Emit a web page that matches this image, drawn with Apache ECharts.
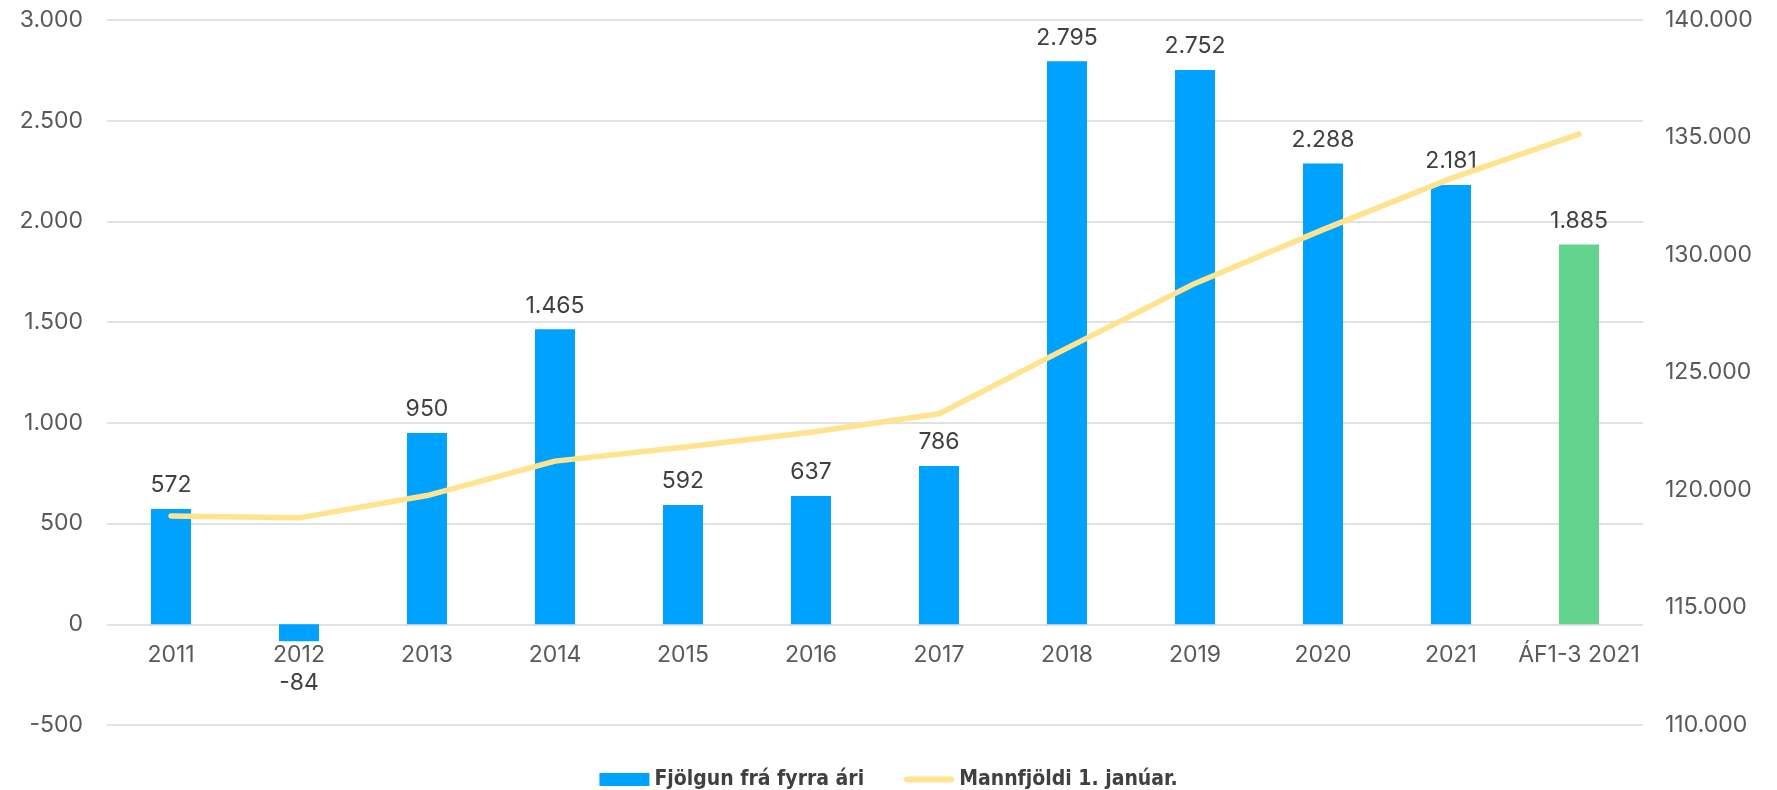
<!DOCTYPE html>
<html>
<head>
<meta charset="utf-8">
<script src="https://cdn.jsdelivr.net/npm/echarts@6/dist/echarts.min.js"></script>
<style>
html,body{margin:0;padding:0;background:#fff;}
#chart{width:1777px;height:790px;}
</style>
</head>
<body>
<div id="chart"></div>
<script>
const categories = ['2011','2012','2013','2014','2015','2016','2017','2018','2019','2020','2021','ÁF1-3 2021'];
const growth = [572, -84, 950, 1465, 592, 637, 786, 2795, 2752, 2288, 2181, 1885];
const population = [118898, 118814, 119764, 121229, 121821, 122458, 123244, 126039, 128791, 131079, 133260, 135145];
const seriesNames = ['Fjölgun frá fyrra ári', 'Mannfjöldi 1. janúar.'];

const fmt = v => {
  const s = Math.abs(v).toString().replace(/\B(?=(\d{3})+(?!\d))/g, '.');
  return (v < 0 ? '-' : '') + s;
};

const axisFont = 'Inter, Noto Sans, sans-serif';
const chart = echarts.init(document.getElementById('chart'), null, {renderer: 'canvas'});
chart.setOption({
  animation: false,
  backgroundColor: '#ffffff',
  grid: {left: 107, right: 134, top: 20, bottom: 65},
  legend: {
    top: 764,
    left: 'center',
    itemWidth: 50,
    itemHeight: 13,
    itemGap: 40,
    textStyle: {fontFamily: 'Liberation Sans Narrow, DejaVu Sans Condensed, sans-serif', fontWeight: 'bold', fontSize: 21, color: '#404040'},
    data: [
      {name: seriesNames[0], icon: 'rect', itemStyle: {color: '#00A2FF'}},
      {name: seriesNames[1], icon: 'path://M0,0L0,0M3,3.5L47,3.5A3,3,0,0,1,47,9.5L3,9.5A3,3,0,0,1,3,3.5ZM50,13L50,13', itemStyle: {color: '#FFE38E'}}
    ]
  },
  xAxis: {
    type: 'category',
    data: categories,
    axisLine: {show: false, onZero: false},
    axisTick: {show: false},
    axisLabel: {fontFamily: axisFont, fontSize: 23, color: '#595959', margin: -81, interval: 0}
  },
  yAxis: [
    {
      type: 'value', min: -500, max: 3000, interval: 500,
      axisLine: {show: false}, axisTick: {show: false},
      splitLine: {lineStyle: {color: '#d9d9d9', width: 1.5}},
      axisLabel: {fontFamily: axisFont, fontSize: 23, color: '#595959', margin: 24, formatter: fmt}
    },
    {
      type: 'value', min: 110000, max: 140000, interval: 5000,
      axisLine: {show: false}, axisTick: {show: false},
      splitLine: {show: false},
      axisLabel: {fontFamily: axisFont, fontSize: 23, color: '#595959', margin: 22, formatter: fmt}
    }
  ],
  series: [
    {
      name: seriesNames[0],
      type: 'bar',
      data: growth.map(v => v < 0 ? {value: v, label: {position: 'bottom', distance: 30}} : v),
      barWidth: 40,
      itemStyle: {color: p => p.dataIndex === growth.length - 1 ? '#62D48E' : '#00A2FF'},
      label: {
        show: true,
        fontFamily: axisFont, fontSize: 23, color: '#404040',
        formatter: p => fmt(p.value),
        position: 'top', distance: 12
      },
      z: 2
    },
    {
      name: seriesNames[1],
      type: 'line',
      yAxisIndex: 1,
      data: population,
      symbol: 'none',
      lineStyle: {color: '#FFE38E', width: 5.5, cap: 'round', join: 'round'},
      itemStyle: {color: '#FFE38E'},
      z: 3
    }
  ]
});
</script>
</body>
</html>
